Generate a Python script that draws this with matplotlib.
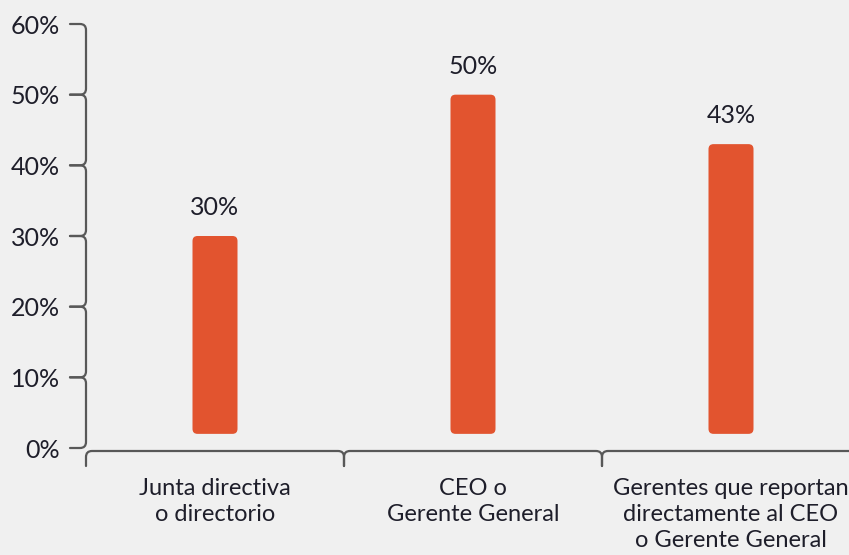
import matplotlib
matplotlib.use("Agg")
import matplotlib.pyplot as plt
from matplotlib.patches import FancyBboxPatch, PathPatch
from matplotlib.path import Path
from matplotlib.transforms import IdentityTransform

# --- data ---------------------------------------------------------------
categories = [
    "Junta directiva\no directorio",
    "CEO o\nGerente General",
    "Gerentes que reportan\ndirectamente al CEO\no Gerente General",
]
values = [30, 50, 43]
value_labels = ["30%", "50%", "43%"]
y_ticks = [0, 10, 20, 30, 40, 50, 60]
y_tick_labels = ["0%", "10%", "20%", "30%", "40%", "50%", "60%"]
bar_floor = 2  # bars start slightly above the baseline

# --- style --------------------------------------------------------------
BG = "#F0F0F0"
BAR = "#E2542F"
AXIS = "#585858"
TEXT = "#1E1E2A"
plt.rcParams["font.family"] = ["Lato", "DejaVu Sans"]

W, H, DPI = 849, 555, 100
fig = plt.figure(figsize=(W / DPI, H / DPI), dpi=DPI, facecolor=BG)
ax_left, ax_bottom_px, ax_top_px = 86, 448, 24
ax = fig.add_axes([ax_left / W, (H - ax_bottom_px) / H,
                   (W - ax_left) / W, (ax_bottom_px - ax_top_px) / H])
ax.set_facecolor(BG)
band_px = 258
ax.set_xlim(-0.5, -0.5 + (W - ax_left) / band_px)
ax.set_ylim(y_ticks[0], y_ticks[-1])
for s in ax.spines.values():
    s.set_visible(False)

# --- rounded bars -------------------------------------------------------
px_x = band_px                                   # pixels per category unit
px_y = (ax_bottom_px - ax_top_px) / (y_ticks[-1] - y_ticks[0])
bar_w = 45 / px_x
r_px = 5
rx = r_px / px_x
ry = r_px / px_y
for i, (v, lab) in enumerate(zip(values, value_labels)):
    box = FancyBboxPatch((i - bar_w / 2, bar_floor), bar_w, v - bar_floor,
                         boxstyle=f"round,pad=0,rounding_size={rx}",
                         mutation_aspect=ry / rx,
                         facecolor=BAR, edgecolor="none")
    ax.add_patch(box)
    ax.annotate(lab, (i, v), xytext=(0, 15), textcoords="offset points",
                ha="center", va="baseline", fontsize=18, color=TEXT)

# --- tick labels --------------------------------------------------------
ax.set_yticks(y_ticks, y_tick_labels)
ax.set_xticks(range(len(categories)), categories)
ax.tick_params(axis="y", length=0, pad=18.5, labelsize=18, labelcolor=TEXT)
ax.tick_params(axis="x", length=0, pad=21.5, labelsize=17, labelcolor=TEXT)
for t in ax.get_xticklabels():
    t.set_linespacing(1.3)

# --- bracket-style axis lines ------------------------------------------
tr = ax.transData
x_axis_left = tr.transform((ax.get_xlim()[0], 0))[0]
tick_len = 16
r = 6
line_kw = dict(fill=False, edgecolor=AXIS, linewidth=1.6,
               transform=IdentityTransform(), capstyle="round")

# vertical axis: one bracket per interval, meeting at the ticks
ypx = [tr.transform((0, t))[1] for t in y_ticks]
for y_lo, y_hi in zip(ypx[:-1], ypx[1:]):
    x0 = x_axis_left
    verts = [(x0 - tick_len, y_hi), (x0 - r, y_hi), (x0, y_hi), (x0, y_hi - r),
             (x0, y_lo + r), (x0, y_lo), (x0 - r, y_lo), (x0 - tick_len, y_lo)]
    codes = [Path.MOVETO, Path.LINETO, Path.CURVE3, Path.CURVE3,
             Path.LINETO, Path.CURVE3, Path.CURVE3, Path.LINETO]
    fig.add_artist(PathPatch(Path(verts, codes), **line_kw))

# horizontal axis: brackets between category bands
y0 = H - 451
xtick_pos = [k - 0.5 for k in range(len(categories) + 1)]
xpx = [tr.transform((k, 0))[0] for k in xtick_pos]
for x_a, x_b in zip(xpx[:-1], xpx[1:]):
    verts = [(x_a, y0 - 15), (x_a, y0 - r), (x_a, y0), (x_a + r, y0),
             (x_b - r, y0), (x_b, y0), (x_b, y0 - r), (x_b, y0 - 15)]
    codes = [Path.MOVETO, Path.LINETO, Path.CURVE3, Path.CURVE3,
             Path.LINETO, Path.CURVE3, Path.CURVE3, Path.LINETO]
    fig.add_artist(PathPatch(Path(verts, codes), **line_kw))

fig.savefig("out.png", dpi=DPI, facecolor=BG)
